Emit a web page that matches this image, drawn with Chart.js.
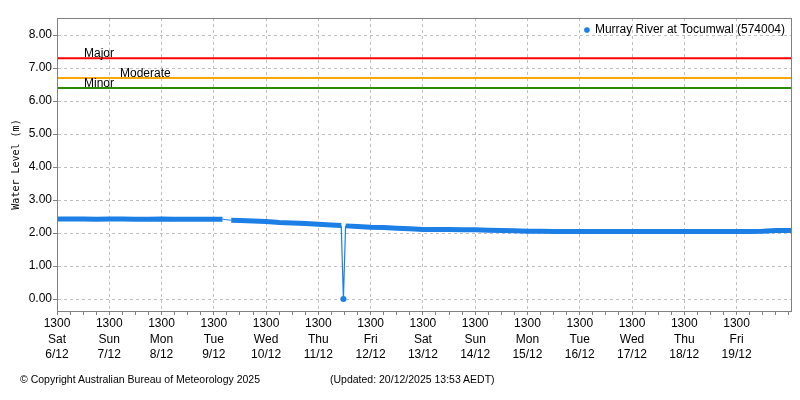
<!DOCTYPE html>
<html>
<head>
<meta charset="utf-8">
<script src="https://cdn.jsdelivr.net/npm/chart.js@4.4.1/dist/chart.umd.min.js"></script>
<style>
  body { margin: 0; background: #fff; }
  #wrap { position: relative; width: 800px; height: 400px; }
  .foot { position: absolute; top: 373px; font: 10.5px "Liberation Sans", Arial, sans-serif; color: #000; white-space: nowrap; }
</style>
</head>
<body>
<div id="wrap">
  <canvas id="chart"></canvas>
  <span class="foot" style="left:20px">© Copyright Australian Bureau of Meteorology 2025</span>
  <span class="foot" style="left:330px">(Updated: 20/12/2025 13:53 AEDT)</span>
</div>
<script>
const stationName = 'Murray River at Tocumwal (574004)'

// hours after 1300 Sat 6/12, water level in metres (null = missing reading)
const hours = [0, 6, 12, 18, 24, 30, 36, 42, 48, 54, 60, 66, 72, 76, 78,
  80, 84, 90, 96, 102, 108, 114, 120, 126, 130.5, 131.5, 132.5,
  138, 144, 150, 156, 162, 168, 174, 180, 186, 192, 198, 204, 210, 216,
  222, 228, 234, 240, 246, 252, 258, 264, 270, 276, 282, 288, 294, 300,
  306, 312, 318, 324, 330, 336, 337]
const levels = [2.43, 2.43, 2.43, 2.42, 2.43, 2.43, 2.42, 2.42, 2.43, 2.42, 2.42, 2.42, 2.42, 2.42, null,
  2.39, 2.38, 2.37, 2.35, 2.32, 2.31, 2.29, 2.27, 2.25, 2.23, 0.00, 2.22,
  2.20, 2.18, 2.17, 2.15, 2.13, 2.11, 2.11, 2.11, 2.10, 2.10, 2.09, 2.08, 2.07, 2.06,
  2.06, 2.05, 2.05, 2.05, 2.05, 2.05, 2.05, 2.05, 2.05, 2.05, 2.05, 2.05, 2.05, 2.05,
  2.05, 2.05, 2.05, 2.06, 2.08, 2.08, 2.08]

const floodNames = ['Major', 'Moderate', 'Minor']
const floodLevels = [7.3, 6.7, 6.4]
const floodColours = ['#ff0000', '#ffa500', '#2a8c00']

const dayNames = ['Sat', 'Sun', 'Mon', 'Tue', 'Wed', 'Thu', 'Fri', 'Sat', 'Sun', 'Mon', 'Tue', 'Wed', 'Thu', 'Fri']
const dayDates = ['6/12', '7/12', '8/12', '9/12', '10/12', '11/12', '12/12', '13/12', '14/12', '15/12', '16/12', '17/12', '18/12', '19/12']
const yTicks = [0, 1, 2, 3, 4, 5, 6, 7, 8]
const xEnd = 337

const fam = '"Liberation Sans", Arial, sans-serif'
const blue = '#1b7fe6'

const floodSets = floodNames.map((name, i) => ({
  label: name,
  data: [{x: 0, y: floodLevels[i]}, {x: xEnd, y: floodLevels[i]}],
  borderColor: floodColours[i],
  borderWidth: 2,
  pointRadius: 0
}))

// flood level names just above their lines
const floodLabels = {
  id: 'floodLabels',
  afterDatasetsDraw(chart) {
    const {ctx, chartArea, scales} = chart
    const shift = [27, 63, 27]
    ctx.save()
    ctx.font = '12px ' + fam
    ctx.fillStyle = '#000'
    ctx.textBaseline = 'alphabetic'
    floodNames.forEach((name, i) => {
      const y = scales.y.getPixelForValue(floodLevels[i])
      ctx.fillText(name, chartArea.left + shift[i], y - 1)
    })
    ctx.restore()
  }
}

// put the legend in the top right corner of the plot
const legendRight = {
  id: 'legendRight',
  afterLayout(chart) {
    const lg = chart.legend
    if (!lg) return
    const w = lg.width
    const h = lg.height
    lg.right = chart.chartArea.right + 4
    lg.left = lg.right - w
    lg.top = chart.chartArea.top
    lg.bottom = lg.top + h
  }
}

// grey box round the plot
const frame = {
  id: 'frame',
  afterDraw(chart) {
    const a = chart.chartArea
    const ctx = chart.ctx
    ctx.save()
    ctx.strokeStyle = '#808080'
    ctx.lineWidth = 1
    ctx.strokeRect(Math.round(a.left) + 0.5, Math.round(a.top) + 0.5, Math.round(a.right - a.left), Math.round(a.bottom - a.top))
    ctx.restore()
  }
}

new Chart(document.getElementById('chart'), {
  type: 'line',
  data: {
    datasets: [{
      label: stationName,
      data: hours.map((h, i) => ({x: h, y: levels[i]})),
      borderColor: blue,
      backgroundColor: blue,
      pointBackgroundColor: blue,
      pointBorderColor: blue,
      pointBorderWidth: 0,
      pointStyle: 'circle',
      borderWidth: 5,
      spanGaps: true,
      pointRadius: ctx => (ctx.raw && ctx.raw.y !== null && ctx.raw.y < 1) ? 3 : 0,
      segment: {
        borderWidth: ctx => (ctx.p0.skip || ctx.p1.skip || ctx.p0.parsed.y < 1 || ctx.p1.parsed.y < 1) ? 1.2 : undefined
      }
    }, ...floodSets]
  },
  options: {
    responsive: true,
    maintainAspectRatio: false,
    animation: false,
    layout: { padding: { top: 18, right: 9, left: 0, bottom: 0 } },
    plugins: {
      tooltip: { enabled: false },
      legend: {
        position: 'chartArea',
        align: 'start',
        labels: {
          filter: item => item.datasetIndex === 0,
          usePointStyle: true,
          boxWidth: 4,
          boxHeight: 4,
          padding: 6,
          color: '#000',
          font: { family: fam, size: 12 }
        }
      }
    },
    scales: {
      x: {
        type: 'linear',
        min: 0,
        max: xEnd,
        afterBuildTicks: axis => {
          const t = []
          for (let h = 0; h <= xEnd; h += 6) t.push({value: h})
          axis.ticks = t
        },
        afterFit: axis => { axis.height = 89 },
        ticks: {
          autoSkip: false,
          maxRotation: 0,
          minRotation: 0,
          padding: 1,
          color: '#000',
          font: { family: fam, size: 12, lineHeight: 1.3 },
          callback: v => (v % 24 === 0 && v / 24 < dayNames.length) ? ['1300', dayNames[v / 24], dayDates[v / 24]] : ''
        },
        grid: {
          color: ctx => (ctx.tick && ctx.tick.value % 24 === 0 && ctx.tick.value < 336) ? '#c0c0c0' : 'transparent',
          tickColor: '#808080',
          tickLength: 4
        },
        border: { color: '#808080', dash: [3, 3] }
      },
      y: {
        type: 'linear',
        min: -0.36,
        max: 8.52,
        afterBuildTicks: axis => { axis.ticks = yTicks.map(v => ({value: v})) },
        afterFit: axis => { axis.width = 57 },
        ticks: {
          padding: 1,
          color: '#000',
          font: { family: fam, size: 12 },
          callback: v => v.toFixed(2)
        },
        grid: { color: '#c0c0c0', tickColor: '#808080', tickLength: 4 },
        border: { color: '#808080', dash: [3, 3] },
        title: {
          display: true,
          text: 'Water Level (m)',
          color: '#000',
          font: { family: '"DejaVu Sans Mono", monospace', size: 10 },
          padding: { top: 10, bottom: 0 }
        }
      }
    }
  },
  plugins: [legendRight, floodLabels, frame]
})
</script>
</body>
</html>
